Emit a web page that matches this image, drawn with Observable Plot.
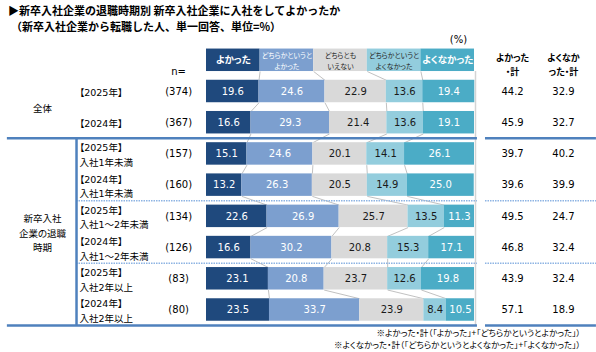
<!DOCTYPE html>
<html><head><meta charset="utf-8">
<script src="https://cdn.jsdelivr.net/npm/d3@7"></script>
<script src="https://cdn.jsdelivr.net/npm/@observablehq/plot@0.6"></script>
<style>
body{margin:0;background:#fff;}
#title{height:34px;box-sizing:border-box;padding:2px 0 0 8px;font:bold 11px/16px "Noto Sans CJK JP",sans-serif;color:#000;white-space:nowrap;}
#chart svg{display:block;}
#chart svg text{font-feature-settings:"palt";}
</style></head><body>
<div id="title"><div>▶新卒入社企業の退職時期別 新卒入社企業に入社をしてよかったか</div><div style="padding-left:3px">（新卒入社企業から転職した人、単一回答、単位=%）</div></div>
<div id="chart"></div>
<script>
// ---- data ----
const categories = ["よかった","どちらかというとよかった","どちらともいえない","どちらかというとよくなかった","よくなかった"];
const headerLabels = ["よかった","どちらかというと\nよかった","どちらとも\nいえない","どちらかというと\nよくなかった","よくなかった"];
const colors = ["#1f497d","#7c9fcf","#d9d9d9","#93cddd","#4bacc6"];
const lightText = [true,true,false,false,true];
const rowYears = ["【2025年】","【2024年】","【2025年】","【2024年】","【2025年】","【2024年】","【2025年】","【2024年】"];
const rowPeriods = ["","","入社1年未満","入社1年未満","入社1～2年未満","入社1～2年未満","入社2年以上","入社2年以上"];
const nValues = [374,367,157,160,134,126,83,80];
const good       = [19.6,16.6,15.1,13.2,22.6,16.6,23.1,23.5];
const ratherGood = [24.6,29.3,24.6,26.3,26.9,30.2,20.8,33.7];
const neutral    = [22.9,21.4,20.1,20.5,25.7,20.8,23.7,23.9];
const ratherBad  = [13.6,13.6,14.1,14.9,13.5,15.3,12.6,8.4];
const bad        = [19.4,19.1,26.1,25.0,11.3,17.1,19.8,10.5];
const goodTotal  = [44.2,45.9,39.7,39.6,49.5,46.8,43.9,57.1];
const badTotal   = [32.9,32.7,40.2,39.9,24.7,32.4,32.4,18.9];
const groupLabels = ["全体","新卒入社\n企業の退職\n時期"];
const groupRows = [[0,1],[2,7]];
const totalHeaders = ["よかった\n・計","よくなか\nった・計"];
const footnotes = ["※よかった・計（「よかった」+「どちらかというとよかった」）","※よくなかった・計（「どちらかというとよくなかった」+「よくなかった」）"];

// ---- build tables ----
const series = [good, ratherGood, neutral, ratherBad, bad];
const H = 0.36; // half bar thickness (in row units)
const segs = [];
const cum = [];
rowYears.forEach((yr, r) => {
  let c = 0; cum[r] = [0];
  series.forEach((s, k) => {
    segs.push({row: r, cat: categories[k], k, v: s[r], x1: c, x2: c + s[r], light: lightText[k]});
    c += s[r]; cum[r].push(c);
  });
});
const headers = categories.map((c, k) => ({cat: c, k, label: headerLabels[k], x1: k * 20, x2: (k + 1) * 20, light: lightText[k]}));
const links = [];
for (let k = 1; k < 5; k++) links.push({xa: k * 20, ya: -1 + H, xb: cum[0][k], yb: -H});
for (let r = 0; r < rowYears.length - 1; r++)
  for (let k = 1; k < 5; k++) links.push({xa: cum[r][k], ya: r + H, xb: cum[r + 1][k], yb: r + 1 - H});
const rows = rowYears.map((y, r) => ({r, label: rowPeriods[r] ? y + "\n" + rowPeriods[r] : y, n: `(${nValues[r]})`, g: goodTotal[r].toFixed(1), b: badTotal[r].toFixed(1)}));

// table column layout (x-scale units, bars span 0..100)
const COL = {group: -61.2, rowLabel: -47.4, n: -10.4, goodTotal: 114.2, badTotal: 133.2, divider: -48.5, lineStart: -74.3, lineEnd: 101.1, rightStart: 104.1, rightEnd: 145.5, pct: 94, foot: 139.6};
const solidLines = [1.5, 7.5].flatMap(y => [{y, x1: COL.lineStart, x2: COL.lineEnd}, {y, x1: COL.rightStart, x2: COL.rightEnd}]);
const dottedLines = [3.5, 5.5].flatMap(y => [{y, x1: COL.divider, x2: COL.lineEnd}, {y, x1: COL.rightStart, x2: COL.rightEnd}]);

const NUM = '"DejaVu Sans","Noto Sans CJK JP",sans-serif';
const JP = '"Noto Sans CJK JP",sans-serif';

const chart = Plot.plot({
  width: 596, height: 318,
  x: {domain: [0, 100], range: [206, 474], axis: null},
  y: {domain: [0, 7], range: [57, 275.5], axis: null},
  color: {domain: categories, range: colors},
  style: {fontFamily: NUM, fontSize: "10px", color: "#000", background: "#fff"},
  marks: [
    Plot.ruleX([100], {x: d => d, y1: -1 + H, y2: 7.5, stroke: "#d4d4d4", strokeWidth: 1.5, dx: 1}),
    Plot.link(links, {x1: "xa", y1: "ya", x2: "xb", y2: "yb", stroke: "#a6a6a6", strokeWidth: 0.7}),
    Plot.rect(headers, {x1: "x1", x2: "x2", y1: -1 - H, y2: -1 + H, fill: "cat"}),
    Plot.rect(segs, {x1: "x1", x2: "x2", y1: d => d.row - H, y2: d => d.row + H, fill: "cat"}),
    Plot.text(headers.filter(d => d.k === 0 || d.k === 4), {x: d => (d.x1 + d.x2) / 2, y: -1, text: "label", fill: "white", fontWeight: "bold", fontSize: 9.5, fontFamily: JP}),
    Plot.text(headers.filter(d => d.k > 0 && d.k < 4), {x: d => (d.x1 + d.x2) / 2, y: -1, text: "label", fill: d => d.light ? "white" : "#262626", fontSize: 7, lineHeight: 1.6, fontFamily: JP}),
    Plot.text(segs.filter(d => d.light), {x: d => (d.x1 + d.x2) / 2, y: "row", text: d => d.v.toFixed(1), fill: "white"}),
    Plot.text(segs.filter(d => !d.light), {x: d => (d.x1 + d.x2) / 2, y: "row", text: d => d.v.toFixed(1), fill: "#1a1a1a"}),
    Plot.text(rows, {x: COL.rowLabel, y: "r", text: "label", textAnchor: "start", fontSize: 9.5, lineHeight: 1.55}),
    Plot.text(rows, {x: COL.n, y: "r", text: "n"}),
    Plot.text(rows, {x: COL.goodTotal, y: "r", text: "g"}),
    Plot.text(rows, {x: COL.badTotal, y: "r", text: "b"}),
    Plot.text(["n="], {x: COL.n, y: -0.62, text: d => d}),
    Plot.text(["(%)"], {x: COL.pct, y: -1.67, text: d => d}),
    Plot.text(totalHeaders, {x: (d, i) => i === 0 ? COL.goodTotal : COL.badTotal, y: -0.9, text: d => d, fontWeight: "bold", fontSize: 9, lineHeight: 1.55, fontFamily: JP}),
    Plot.text(groupLabels, {x: COL.group, y: (d, i) => (groupRows[i][0] + groupRows[i][1]) / 2, text: d => d, fontSize: 9.5, lineHeight: 1.5, fontFamily: JP}),
    Plot.text(footnotes, {x: COL.foot, y: (d, i) => 7.754 + i * 0.385, text: d => d, textAnchor: "end", fontSize: 8.5, fontFamily: JP}),
    Plot.ruleY(solidLines, {y: "y", x1: "x1", x2: "x2", stroke: "#4f81bd", strokeWidth: 2.5}),
    Plot.ruleY(dottedLines, {y: "y", x1: "x1", x2: "x2", stroke: "#8eb4e3", strokeWidth: 1.5, strokeDasharray: "1.5,1"}),
    Plot.ruleX([COL.divider], {x: d => d, y1: 1.5, y2: 7.5, stroke: "#4f81bd", strokeWidth: 2.5})
  ]
});
document.getElementById("chart").appendChild(chart);
</script></body></html>
